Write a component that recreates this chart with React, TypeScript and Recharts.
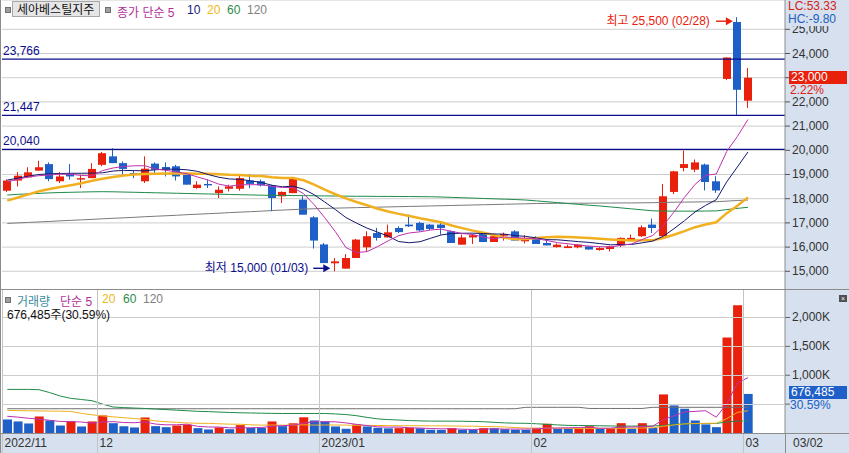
import { ComposedChart, Bar, Line, XAxis, YAxis, CartesianGrid, ReferenceLine, ReferenceDot, Cell } from 'recharts'

// trading days shown (2022/11/18 .. 2023/03/02)
const dates = [
  '11/18', '11/21', '11/22', '11/23', '11/24', '11/25', '11/28', '11/29', '11/30',
  '12/01', '12/02', '12/05', '12/06', '12/07', '12/08', '12/09', '12/12', '12/13', '12/14', '12/15',
  '12/16', '12/19', '12/20', '12/21', '12/22', '12/23', '12/26', '12/27', '12/28', '12/29',
  '01/02', '01/03', '01/04', '01/05', '01/06', '01/09', '01/10', '01/11', '01/12', '01/13',
  '01/16', '01/17', '01/18', '01/19', '01/20', '01/25', '01/26', '01/27', '01/30', '01/31',
  '02/01', '02/02', '02/03', '02/06', '02/07', '02/08', '02/09', '02/10', '02/13', '02/14',
  '02/15', '02/16', '02/17', '02/20', '02/21', '02/22', '02/23', '02/24', '02/27', '02/28',
  '03/02',
]

const opens = [
  18330, 18750, 18880, 19160, 19430, 18720, 19020, 18790, 18850, 19400,
  19750, 19470, 19060, 18720, 19450, 19310, 19340, 18990, 18440, 18610,
  18230, 18410, 18410, 18750, 18720, 18550, 18100, 18230, 17960, 17230,
  16110, 15330, 15110, 15550, 15990, 16580, 16400, 16790, 16930, 17000,
  16930, 16930, 16650, 16100, 16400, 16540, 16210, 16470, 16650, 16240,
  16330, 16170, 16000, 15960, 15990, 16030, 15880, 15920, 16070, 16290,
  16450, 16930, 16450, 18280, 19270, 19200, 19410, 18720, 22950, 25300,
  22050,
]
const highs = [
  18800, 19100, 19300, 19570, 19500, 19100, 19430, 18990, 19470, 19930,
  20080, 19540, 19160, 19750, 19500, 19500, 19400, 19000, 18720, 18790,
  18510, 18580, 19020, 19020, 18790, 18580, 18300, 18880, 18100, 17280,
  16170, 15550, 15710, 16340, 16650, 16790, 16930, 16860, 17340, 17050,
  16950, 17000, 16680, 16520, 16540, 16560, 16500, 16600, 16700, 16500,
  16450, 16310, 16150, 16100, 16130, 16050, 16000, 16050, 16400, 16520,
  16900, 17180, 18610, 19150, 19990, 19620, 19450, 18930, 23835, 25500,
  23400,
]
const lows = [
  18280, 18510, 18850, 19150, 18720, 18650, 18790, 18440, 18850, 19340,
  19470, 18990, 18850, 18650, 18990, 18920, 18750, 18580, 18410, 18440,
  18030, 18300, 18330, 18440, 18510, 17480, 17820, 18230, 17340, 15940,
  15340, 15000, 15110, 15550, 15830, 16270, 16400, 16580, 16830, 16650,
  16700, 16520, 16170, 16100, 16130, 16210, 16210, 16270, 16270, 16150,
  16130, 16070, 15980, 15960, 15950, 15890, 15850, 15820, 16000, 16290,
  16420, 16580, 16450, 18190, 19130, 19100, 18340, 18240, 22900, 21450,
  21750,
]
const closes = [
  18750, 18950, 19090, 19300, 18810, 18920, 18920, 18850, 19230, 19880,
  19470, 19230, 18990, 19240, 19200, 19200, 18920, 18580, 18580, 18550,
  18370, 18510, 18850, 18610, 18550, 18030, 18280, 18850, 17340, 16270,
  15340, 15410, 15550, 16310, 16450, 16380, 16610, 16620, 16860, 16690,
  16750, 16790, 16170, 16400, 16490, 16210, 16450, 16540, 16270, 16350,
  16130, 16070, 16100, 16030, 16100, 15900, 15960, 16030, 16380, 16380,
  16820, 16790, 18100, 19130, 19430, 19500, 18690, 18340, 23835, 22500,
  23000,
]

// moving averages of the close, as drawn
const ma5 = [
  18700, 18800, 18900, 18950, 18980, 19014, 19008, 18960, 18946, 19160,
  19270, 19332, 19360, 19362, 19226, 19172, 19110, 19028, 18896, 18766,
  18600, 18518, 18572, 18578, 18578, 18510, 18464, 18464, 18210, 17754,
  17216, 16642, 15982, 15776, 15812, 16020, 16260, 16474, 16584, 16632,
  16706, 16742, 16652, 16560, 16520, 16412, 16344, 16418, 16392, 16364,
  16348, 16272, 16184, 16136, 16086, 16040, 16018, 16004, 16074, 16130,
  16314, 16480, 16894, 17444, 18054, 18590, 18970, 19018, 19959, 20573,
  21273,
]
const ma10 = [
  18770, 18850, 18930, 19000, 19030, 19040, 19050, 19050, 19060, 19070,
  19142, 19170, 19160, 19154, 19193, 19221, 19221, 19194, 19129, 18996,
  18886, 18814, 18800, 18737, 18672, 18555, 18491, 18518, 18394, 18166,
  17863, 17553, 17223, 16993, 16783, 16618, 16451, 16228, 16180, 16222,
  16363, 16501, 16563, 16572, 16576, 16559, 16543, 16535, 16476, 16442,
  16380, 16308, 16301, 16264, 16225, 16194, 16145, 16094, 16105, 16108,
  16177, 16249, 16449, 16759, 17092, 17452, 17725, 17956, 18701, 19313,
  19931,
]
const ma20 = [
  17920, 18050, 18180, 18310, 18400, 18480, 18560, 18640, 18740, 18820,
  18900, 18960, 19000, 19020, 19030, 19040, 19040, 19040, 19035, 19033,
  19014, 18992, 18980, 18946, 18933, 18888, 18856, 18856, 18762, 18581,
  18375, 18184, 18012, 17865, 17728, 17587, 17471, 17373, 17287, 17194,
  17113, 17027, 16893, 16783, 16680, 16589, 16497, 16382, 16328, 16332,
  16372, 16405, 16432, 16418, 16401, 16377, 16344, 16315, 16291, 16275,
  16279, 16279, 16375, 16512, 16659, 16823, 16935, 17025, 17403, 17711,
  18054,
]
const ma60 = [
  18150, 18180, 18200, 18220, 18240, 18255, 18265, 18275, 18285, 18290,
  18285, 18275, 18265, 18255, 18245, 18235, 18225, 18215, 18205, 18195,
  18185, 18175, 18165, 18155, 18145, 18140, 18135, 18130, 18125, 18120,
  18115, 18110, 18105, 18100, 18100, 18095, 18095, 18090, 18090, 18085,
  18080, 18070, 18055, 18040, 18025, 18010, 17995, 17980, 17965, 17945,
  17910, 17875, 17840, 17800, 17765, 17730, 17700, 17660, 17620, 17580,
  17540, 17500, 17490, 17485, 17485, 17485, 17490, 17495, 17550, 17600,
  17645,
]
const ma120 = [
  16980, 17000, 17020, 17040, 17060, 17085, 17105, 17125, 17145, 17170,
  17190, 17210, 17230, 17255, 17275, 17295, 17315, 17340, 17360, 17380,
  17400, 17425, 17445, 17465, 17485, 17510, 17530, 17550, 17570, 17585,
  17600, 17610, 17620, 17630, 17640, 17650, 17660, 17670, 17680, 17690,
  17700, 17710, 17720, 17730, 17740, 17750, 17760, 17770, 17780, 17790,
  17800, 17805, 17810, 17810, 17815, 17815, 17820, 17820, 17825, 17825,
  17830, 17835, 17845, 17855, 17860, 17865, 17870, 17875, 17900, 17925,
  17945,
]

const volumes = [
  234000, 200000, 165000, 286000, 217000, 130000, 200000, 113000, 200000, 304000,
  170000, 119000, 96000, 269000, 119000, 101000, 130000, 142000, 84000, 61000,
  96000, 66000, 136000, 90000, 88000, 200000, 119000, 168000, 272000, 217000,
  200000, 113000, 73000, 148000, 113000, 90000, 80000, 84000, 88000, 82000,
  56000, 54000, 84000, 56000, 54000, 84000, 82000, 65000, 56000, 54000,
  90000, 160000, 73000, 72000, 80000, 118000, 73000, 76000, 170000, 73000,
  170000, 90000, 668000, 477000, 420000, 217000, 148000, 101000, 1653000, 2214000,
  676485,
]
const volMa5 = [
  290000, 275000, 255000, 240000, 220000, 200000, 200000, 189000, 172000, 189000,
  197000, 181000, 178000, 192000, 155000, 141000, 143000, 152000, 115000, 104000,
  103000, 90000, 89000, 90000, 95000, 116000, 127000, 133000, 169000, 195000,
  195000, 194000, 175000, 150000, 129000, 107000, 101000, 103000, 91000, 85000,
  78000, 73000, 73000, 66000, 61000, 66000, 72000, 68000, 68000, 68000,
  69000, 85000, 87000, 90000, 95000, 101000, 83000, 84000, 103000, 102000,
  112000, 116000, 234000, 296000, 365000, 374000, 386000, 273000, 508000, 867000,
  958000,
]
const volMa20 = [
  390000, 388000, 385000, 382000, 380000, 377000, 373000, 340000, 315000, 295000,
  280000, 265000, 250000, 235000, 210000, 195000, 185000, 175000, 168000, 167000,
  160000, 153000, 152000, 142000, 136000, 139000, 135000, 138000, 142000, 137000,
  139000, 138000, 137000, 131000, 131000, 130000, 128000, 125000, 125000, 126000,
  124000, 124000, 121000, 119000, 118000, 112000, 110000, 105000, 94000, 86000,
  80000, 83000, 83000, 79000, 77000, 79000, 78000, 78000, 82000, 82000,
  87000, 89000, 118000, 139000, 158000, 164000, 168000, 169000, 249000, 357000,
  386000,
]
const volMa60 = [
  755000, 755000, 755000, 750000, 700000, 640000, 600000, 580000, 560000, 500000,
  450000, 440000, 432000, 425000, 415000, 405000, 395000, 385000, 375000, 370000,
  362000, 356000, 350000, 347000, 343000, 340000, 338000, 338000, 338000, 338000,
  338000, 330000, 320000, 300000, 270000, 245000, 232000, 225000, 215000, 210000,
  206000, 205000, 205000, 203000, 200000, 195000, 185000, 175000, 170000, 168000,
  160000, 150000, 140000, 132000, 130000, 128000, 125000, 122000, 120000, 120000,
  120000, 122000, 130000, 150000, 158000, 160000, 162000, 165000, 190000, 205000,
  210000,
]
const volMa120 = [
  420000, 420000, 420000, 420000, 420000, 420000, 420000, 420000, 420000, 420000,
  420000, 420000, 420000, 420000, 420000, 420000, 420000, 420000, 420000, 420000,
  420000, 420000, 420000, 420000, 420000, 420000, 420000, 420000, 420000, 420000,
  420000, 420000, 420000, 420000, 420000, 420000, 420000, 420000, 420000, 420000,
  420000, 420000, 420000, 420000, 420000, 420000, 420000, 420000, 420000, 445000,
  445000, 445000, 445000, 445000, 445000, 425000, 425000, 425000, 425000, 425000,
  425000, 445000, 445000, 445000, 445000, 445000, 445000, 445000, 445000, 445000,
  445000,
]

const priceTicks = [15000, 16000, 17000, 18000, 19000, 20000, 21000, 22000, 23000, 24000, 25000]
const volumeGridTicks = [500000, 1000000, 1500000, 2000000]
const volumeLabelTicks = [1000000, 1500000, 2000000]
const volumeMinorTicks = Array.from({ length: 24 }, (_, k) => (k + 1) * 100000)
const monthStarts = ['11/18', '12/01', '01/02', '02/01', '03/02']
const monthLabels = ['2022/11', '12', '2023/01', '02', '03']
const levels = [23766, 21447, 20040]
const padSlots = ['p1', 'p2', 'p3']

const W = 849
const PRICE_H = 290
const VOL_H = 163
const DATE_H = 20
const AXIS_W = 64
const LEFT = 2
const PLOT_W = W - LEFT - AXIS_W
const BAND = PLOT_W / (dates.length + padSlots.length)
const VOL_MAX = 2476000

const RED = '#e8200c'
const BLUE = '#1f5fc8'
const NAVY = '#0c0c8c'
const AXIS_BG = '#d6e0ee'
const BORDER = '#8c8c8c'
const GRID = '#cdcdcd'
const GRID_V = '#c4c4c4'
const FONT = '"Liberation Sans", "Noto Sans CJK KR", sans-serif'

const rows: any[] = [
  ...dates.map((date, i) => ({
    date,
    open: opens[i],
    high: highs[i],
    low: lows[i],
    close: closes[i],
    range: [lows[i], highs[i]],
    ma5: ma5[i],
    ma10: ma10[i],
    ma20: ma20[i],
    ma60: ma60[i],
    ma120: ma120[i],
    volume: volumes[i],
    vma5: volMa5[i],
    vma20: volMa20[i],
    vma60: volMa60[i],
    vma120: volMa120[i],
  })),
  ...padSlots.map((date) => ({ date })),
]

const fmt = (v: number) => v.toLocaleString('en-US')

function Candle(props: any) {
  const { x, y, width, height, payload } = props
  if (!payload || payload.open == null) return null
  const { open, close, high, low } = payload
  const top = Math.min(y, y + height)
  const h = Math.abs(height)
  const k = high > low ? h / (high - low) : 0
  const yOf = (v: number) => top + (high - v) * k
  const color = close >= open ? RED : BLUE
  const left = Math.round(x + width / 2 - 4)
  const bodyTop = yOf(Math.max(open, close))
  const bodyH = Math.max(1, yOf(Math.min(open, close)) - bodyTop)
  return (
    <g>
      <line x1={left + 3.5} x2={left + 3.5} y1={top} y2={top + h} stroke={color} />
      <rect x={left} y={bodyTop} width={8} height={bodyH} fill={color} />
    </g>
  )
}

function PriceTick({ x, y, payload }: any) {
  return (
    <g>
      <line x1={x} x2={x + 5} y1={y} y2={y} stroke="#555" />
      <text x={x + 7} y={y + 4} fontSize={12} fontFamily={FONT} fill="#333">{fmt(payload.value)}</text>
    </g>
  )
}

// major volume tick: grid line across the panel, tick dash, label
function VolumeTick({ x, y, payload }: any) {
  const v = payload.value
  const gy = Math.round(y) + 0.5
  return (
    <g>
      <line x1={x - PLOT_W} x2={x} y1={gy} y2={gy} stroke={GRID} />
      <line x1={x} x2={x + 5} y1={y} y2={y} stroke="#666" />
      {volumeLabelTicks.includes(v) && (
        <text x={x + 7} y={y + 4} fontSize={12} fontFamily={FONT} fill="#333">{fmt(v / 1000)}K</text>
      )}
    </g>
  )
}

function MinorTick({ x, y }: any) {
  return <line x1={x} x2={x + 3} y1={y} y2={y} stroke="#666" />
}

function PriceMonthLine({ x, y }: any) {
  const left = Math.round(x - BAND / 2) + 0.5
  return <line x1={left} x2={left} y1={y - PRICE_H} y2={y} stroke={GRID_V} />
}

function DateTick({ x, y, payload }: any) {
  const left = Math.round(x - BAND / 2) + 0.5
  const label = monthLabels[monthStarts.indexOf(payload.value)]
  return (
    <g>
      <line x1={left} x2={left} y1={y - (VOL_H - DATE_H)} y2={y + DATE_H} stroke={GRID_V} />
      <text x={left + 2} y={y + 14} fontSize={12} fontFamily={FONT} fill="#333">{label}</text>
    </g>
  )
}

function LevelTag({ viewBox, text }: any) {
  return (
    <text x={viewBox.x + 1} y={viewBox.y - 4} fontSize={12} fontFamily={FONT} fill={NAVY}>{text}</text>
  )
}

function Arrow({ tipX, y, len, color }: any) {
  return (
    <g>
      <line x1={tipX - len} x2={tipX - 5} y1={y} y2={y} stroke={color} strokeWidth={1.4} />
      <path d={`M${tipX},${y} L${tipX - 7},${y - 4} L${tipX - 7},${y + 4} Z`} fill={color} />
    </g>
  )
}

function PeakMark({ cx, cy }: any) {
  const tip = cx - 4.5
  const ay = cy + 4
  return (
    <g>
      <Arrow tipX={tip} y={ay} len={17} color={RED} />
      <text x={tip - 23} y={ay + 4} textAnchor="end" fontSize={12} fontFamily={FONT} fill={RED}>
        최고 25,500 (02/28)
      </text>
    </g>
  )
}

function TroughMark({ cx, cy }: any) {
  const tip = cx - 5
  const ay = cy - 3
  return (
    <g>
      <Arrow tipX={tip} y={ay} len={17} color={NAVY} />
      <text x={tip - 22} y={ay + 4} textAnchor="end" fontSize={12} fontFamily={FONT} fill={NAVY}>
        최저 15,000 (01/03)
      </text>
    </g>
  )
}

const abs = (s: any) => ({ position: 'absolute' as const, ...s })

export default function App() {
  return (
    <div style={{ position: 'relative', width: W, height: 453, background: '#fff', fontFamily: FONT, fontSize: 12, overflow: 'hidden' }}>
      <style>{'body{margin:0}'}</style>
      <div style={abs({ left: W - AXIS_W, top: 0, width: AXIS_W, height: 453, background: AXIS_BG })} />
      <div style={abs({ left: 0, top: 433, width: W, height: DATE_H, background: AXIS_BG })} />

      <div style={abs({ left: 0, top: 0 })}>
        <ComposedChart width={W} height={PRICE_H} data={rows} margin={{ top: 0, right: 0, bottom: 0, left: LEFT }}>
          <CartesianGrid horizontal vertical={false} stroke={GRID} />
          <XAxis dataKey="date" height={0} axisLine={false} tickLine={false} tickSize={0} tickMargin={0}
            ticks={monthStarts} interval={0} tick={<PriceMonthLine />} />
          <YAxis orientation="right" width={AXIS_W} domain={[14227, 26211]} ticks={priceTicks}
            axisLine={{ stroke: BORDER }} tickLine={false} tickSize={0} tickMargin={0} tick={<PriceTick />} />
          {levels.map((v) => (
            <ReferenceLine key={v} y={v} stroke={NAVY} strokeWidth={1.2} label={<LevelTag text={fmt(v)} />} />
          ))}
          <Bar dataKey="range" barSize={8} shape={<Candle />} isAnimationActive={false} />
          <Line dataKey="ma120" stroke="#7a7a7a" strokeWidth={1} dot={false} activeDot={false} isAnimationActive={false} />
          <Line dataKey="ma60" stroke="#1f8a4a" strokeWidth={1} dot={false} activeDot={false} isAnimationActive={false} />
          <Line dataKey="ma20" stroke="#f0b020" strokeWidth={2.5} dot={false} activeDot={false} isAnimationActive={false} />
          <Line dataKey="ma10" stroke="#14186e" strokeWidth={1} dot={false} activeDot={false} isAnimationActive={false} />
          <Line dataKey="ma5" stroke="#c030b0" strokeWidth={1} dot={false} activeDot={false} isAnimationActive={false} />
          <ReferenceDot x="02/28" y={25500} r={0} shape={<PeakMark />} />
          <ReferenceDot x="01/03" y={15000} r={0} shape={<TroughMark />} />
        </ComposedChart>
      </div>

      <div style={abs({ left: 0, top: PRICE_H })}>
        <ComposedChart width={W} height={VOL_H} data={rows} margin={{ top: 0, right: 0, bottom: 0, left: LEFT }}>
          <XAxis dataKey="date" height={DATE_H} axisLine={false} tickLine={false} tickSize={0} tickMargin={0}
            ticks={monthStarts} interval={0} tick={<DateTick />} />
          <YAxis yAxisId="minor" orientation="right" width={0} domain={[0, VOL_MAX]} ticks={volumeMinorTicks}
            interval={0} axisLine={false} tickLine={false} tickSize={0} tickMargin={0} tick={<MinorTick />} />
          <YAxis orientation="right" width={AXIS_W} domain={[0, VOL_MAX]} ticks={volumeGridTicks}
            interval={0} axisLine={{ stroke: BORDER }} tickLine={false} tickSize={0} tickMargin={0} tick={<VolumeTick />} />
          <Bar dataKey="volume" barSize={9} isAnimationActive={false}>
            {rows.map((r, i) => (
              <Cell key={r.date} fill={i > 0 && volumes[i] > volumes[i - 1] ? RED : BLUE} />
            ))}
          </Bar>
          <Line dataKey="vma120" stroke="#6e6e6e" strokeWidth={1} dot={false} activeDot={false} isAnimationActive={false} />
          <Line dataKey="vma60" stroke="#1f8a4a" strokeWidth={1} dot={false} activeDot={false} isAnimationActive={false} />
          <Line dataKey="vma20" stroke="#f0b020" strokeWidth={1} dot={false} activeDot={false} isAnimationActive={false} />
          <Line dataKey="vma5" stroke="#c030b0" strokeWidth={1} dot={false} activeDot={false} isAnimationActive={false} />
        </ComposedChart>
      </div>

      {/* frame lines */}
      <div style={abs({ left: 0, top: 0, width: 1, height: 453, background: BORDER })} />
      <div style={abs({ left: 0, top: PRICE_H - 1, width: W, height: 1, background: BORDER })} />
      <div style={abs({ left: 0, top: 433, width: W, height: 1, background: BORDER })} />
      <div style={abs({ left: W - AXIS_W, top: 433, width: 1, height: DATE_H, background: BORDER })} />

      {/* price panel header */}
      <div style={abs({ left: 5, top: 7, width: 4, height: 4, background: '#a0a0a0', border: '1px solid #707070' })} />
      <div style={abs({ left: 12, top: 1, width: 88, height: 16, background: '#e6e6e6', border: '1px solid #a8a8a8', lineHeight: '16px', paddingLeft: 4, boxSizing: 'border-box', color: '#111' })}>
        세아베스틸지주
      </div>
      <div style={abs({ left: 105, top: 7, width: 4, height: 4, background: '#a0a0a0', border: '1px solid #707070' })} />
      <div style={abs({ left: 117, top: 3, color: '#b0309a', whiteSpace: 'nowrap' })}>종가 단순 5</div>
      <div style={abs({ left: 187, top: 3, color: '#141a80' })}>10</div>
      <div style={abs({ left: 207, top: 3, color: '#e8b818' })}>20</div>
      <div style={abs({ left: 227, top: 3, color: '#2a8c46' })}>60</div>
      <div style={abs({ left: 247, top: 3, color: '#808080' })}>120</div>

      {/* volume panel header */}
      <div style={abs({ left: 5, top: 297, width: 4, height: 4, background: '#a0a0a0', border: '1px solid #707070' })} />
      <div style={abs({ left: 17, top: 292, color: '#3a8aa0' })}>거래량</div>
      <div style={abs({ left: 60, top: 292, color: '#b0309a', whiteSpace: 'nowrap' })}>단순 5</div>
      <div style={abs({ left: 102, top: 292, color: '#e8b818' })}>20</div>
      <div style={abs({ left: 123, top: 292, color: '#2a8c46' })}>60</div>
      <div style={abs({ left: 143, top: 292, color: '#808080' })}>120</div>
      <div style={abs({ left: 7, top: 305, color: '#111', whiteSpace: 'nowrap' })}>676,485주(30.59%)</div>

      {/* right side readouts */}
      <div style={abs({ left: 788, top: 0, color: '#d82010', lineHeight: '13px' })}>LC:53.33</div>
      <div style={abs({ left: 786, top: 13, width: 63, height: 13, background: AXIS_BG, color: '#2060c0', lineHeight: '13px', paddingLeft: 2, boxSizing: 'border-box' })}>HC:-9.80</div>
      <div style={abs({ left: 789, top: 71, width: 58, height: 13, background: RED, color: '#fff', lineHeight: '13px', paddingLeft: 2, boxSizing: 'border-box' })}>23,000</div>
      <div style={abs({ left: 790, top: 85, color: '#e02010', lineHeight: '11px' })}>2.22%</div>
      <div style={abs({ left: 789, top: 386, width: 58, height: 13, background: BLUE, color: '#fff', lineHeight: '13px', paddingLeft: 2, boxSizing: 'border-box' })}>676,485</div>
      <div style={abs({ left: 790, top: 400, color: '#2060c8', lineHeight: '11px' })}>30.59%</div>
      <div style={abs({ left: 839, top: 295, width: 8, height: 7, background: '#505050', color: '#fff', fontSize: 7, lineHeight: '7px', textAlign: 'center' })}>×</div>
      <div style={abs({ left: 793, top: 436, color: '#333', lineHeight: '14px' })}>03/02</div>
    </div>
  )
}
